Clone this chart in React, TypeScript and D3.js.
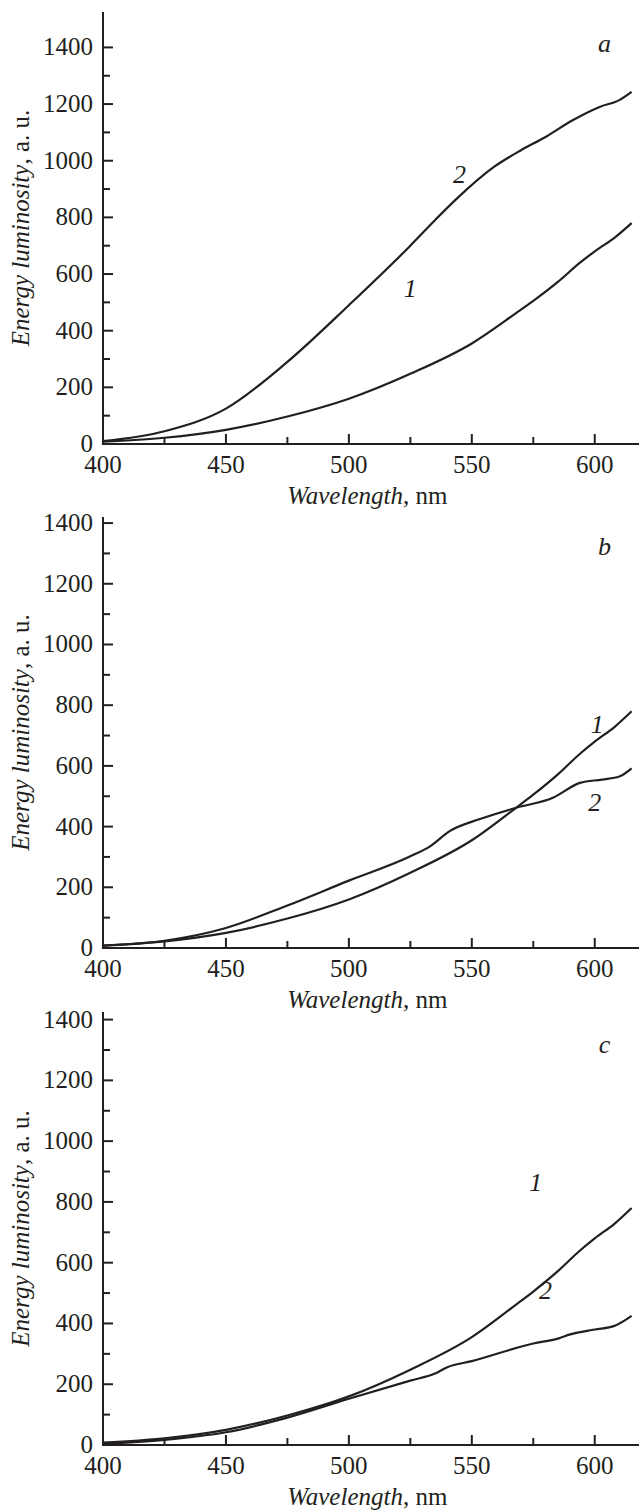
import React from 'react';
import { scaleLinear, line, curveMonotoneX, range } from 'd3';

// wavelength (nm) / energy luminosity (a. u.)
const curve1 = [
  [400, 8], [425, 22], [450, 50], [475, 97], [500, 160], [525, 248], [550, 355],
  [568, 462], [575, 505], [585, 572], [594, 640], [600, 680], [608, 728], [615, 780],
];
const curve2a = [
  [400, 10], [425, 45], [450, 125], [475, 290], [500, 490], [525, 700], [535, 790],
  [544, 867], [559, 978], [570, 1037], [580, 1084], [591, 1143], [602, 1190], [610, 1214], [615, 1243],
];
const curve2b = [
  [400, 8], [425, 24], [450, 66], [475, 140], [500, 222], [525, 302], [533, 335],
  [541, 385], [553, 424], [568, 462], [583, 495], [594, 544], [603, 555], [610, 565], [615, 592],
];
const curve2c = [
  [400, 4], [425, 17], [450, 42], [475, 90], [500, 152], [525, 212], [535, 235],
  [540, 256], [550, 276], [575, 334], [585, 350], [590, 364], [600, 380], [608, 392], [615, 425],
];

const xTicks = [400, 450, 500, 550, 600];
const xMinor = [425, 475, 525, 575];
const yTicks = [0, 200, 400, 600, 800, 1000, 1200, 1400];
const yMinor = range(100, 1500, 200);

const panels = [
  { letter: 'a', c2: curve2a, yMax: 1525, bottom: 444, top: 12, lab1: [525, 520], lab2: [545, 921], letterPos: [604, 1383] },
  { letter: 'b', c2: curve2b, yMax: 1420, bottom: 948, top: 517, lab1: [601, 708], lab2: [600, 451], letterPos: [604, 1294] },
  { letter: 'c', c2: curve2c, yMax: 1425, bottom: 1445, top: 1012, lab1: [576, 837], lab2: [580, 481], letterPos: [604, 1291] },
];

const W = 639;
const H = 1511;
const ink = '#231f20';
const font = 'Liberation Serif';

const x = scaleLinear().domain([400, 618]).range([103, 639]);

function Panel({ p }: { p: typeof panels[number] }) {
  const y = scaleLinear().domain([0, p.yMax]).range([p.bottom, p.top]);
  const ln = line<number[]>().x(d => x(d[0])).y(d => y(d[1])).curve(curveMonotoneX);
  const x0 = x(400);
  const y0 = y(0);
  const it = (t: string, pos: number[]) => (
    <text x={x(pos[0])} y={y(pos[1])} textAnchor="middle" fontFamily={font} fontStyle="italic" fontSize={26} fill={ink}>{t}</text>
  );
  return (
    <g>
      {/* axes */}
      <line x1={x0} x2={x0} y1={y0 + 1} y2={y(p.yMax)} stroke={ink} strokeWidth={2} />
      <line x1={x0 - 1} x2={W} y1={y0} y2={y0} stroke={ink} strokeWidth={2} />
      {yTicks.map(t => (
        <g key={'y' + t}>
          <line x1={x0} x2={x0 + 10} y1={y(t)} y2={y(t)} stroke={ink} strokeWidth={2} />
          <text x={x0 - 10} y={y(t) + 8} textAnchor="end" fontFamily={font} fontSize={25} fill={ink}>{t}</text>
        </g>
      ))}
      {yMinor.map(t => (
        <line key={'ym' + t} x1={x0} x2={x0 + 7} y1={y(t)} y2={y(t)} stroke={ink} strokeWidth={2} />
      ))}
      {xTicks.map(t => (
        <g key={'x' + t}>
          <line x1={x(t)} x2={x(t)} y1={y0} y2={y0 - 10} stroke={ink} strokeWidth={2} />
          <text x={x(t)} y={y0 + 29} textAnchor="middle" fontFamily={font} fontSize={25} fill={ink}>{t}</text>
        </g>
      ))}
      {xMinor.map(t => (
        <line key={'xm' + t} x1={x(t)} x2={x(t)} y1={y0} y2={y0 - 7} stroke={ink} strokeWidth={2} />
      ))}

      {/* curves */}
      {[curve1, p.c2].map((c, i) => (
        <path key={i} d={ln(c) || ''} fill="none" stroke={ink} strokeWidth={2.2} />
      ))}

      {it('1', p.lab1)}
      {it('2', p.lab2)}
      {it(p.letter, p.letterPos)}

      {/* titles */}
      <text x={(x(400) + x(615)) / 2} y={y0 + 60} textAnchor="middle" fontFamily={font} fontSize={25} fill={ink}>
        <tspan fontStyle="italic">Wavelength</tspan>, nm
      </text>
      <text transform={`translate(29,${(y0 + y(p.yMax)) / 2}) rotate(-90)`} textAnchor="middle" fontFamily={font} fontSize={25} fill={ink}>
        <tspan fontStyle="italic">Energy luminosity</tspan>, a. u.
      </text>
    </g>
  );
}

export default function App() {
  return (
    <svg width={W} height={H}
      style={{ position: 'absolute', left: 0, top: 0, display: 'block', background: '#fff' }}>
      {panels.map(p => <Panel key={p.letter} p={p} />)}
    </svg>
  );
}
